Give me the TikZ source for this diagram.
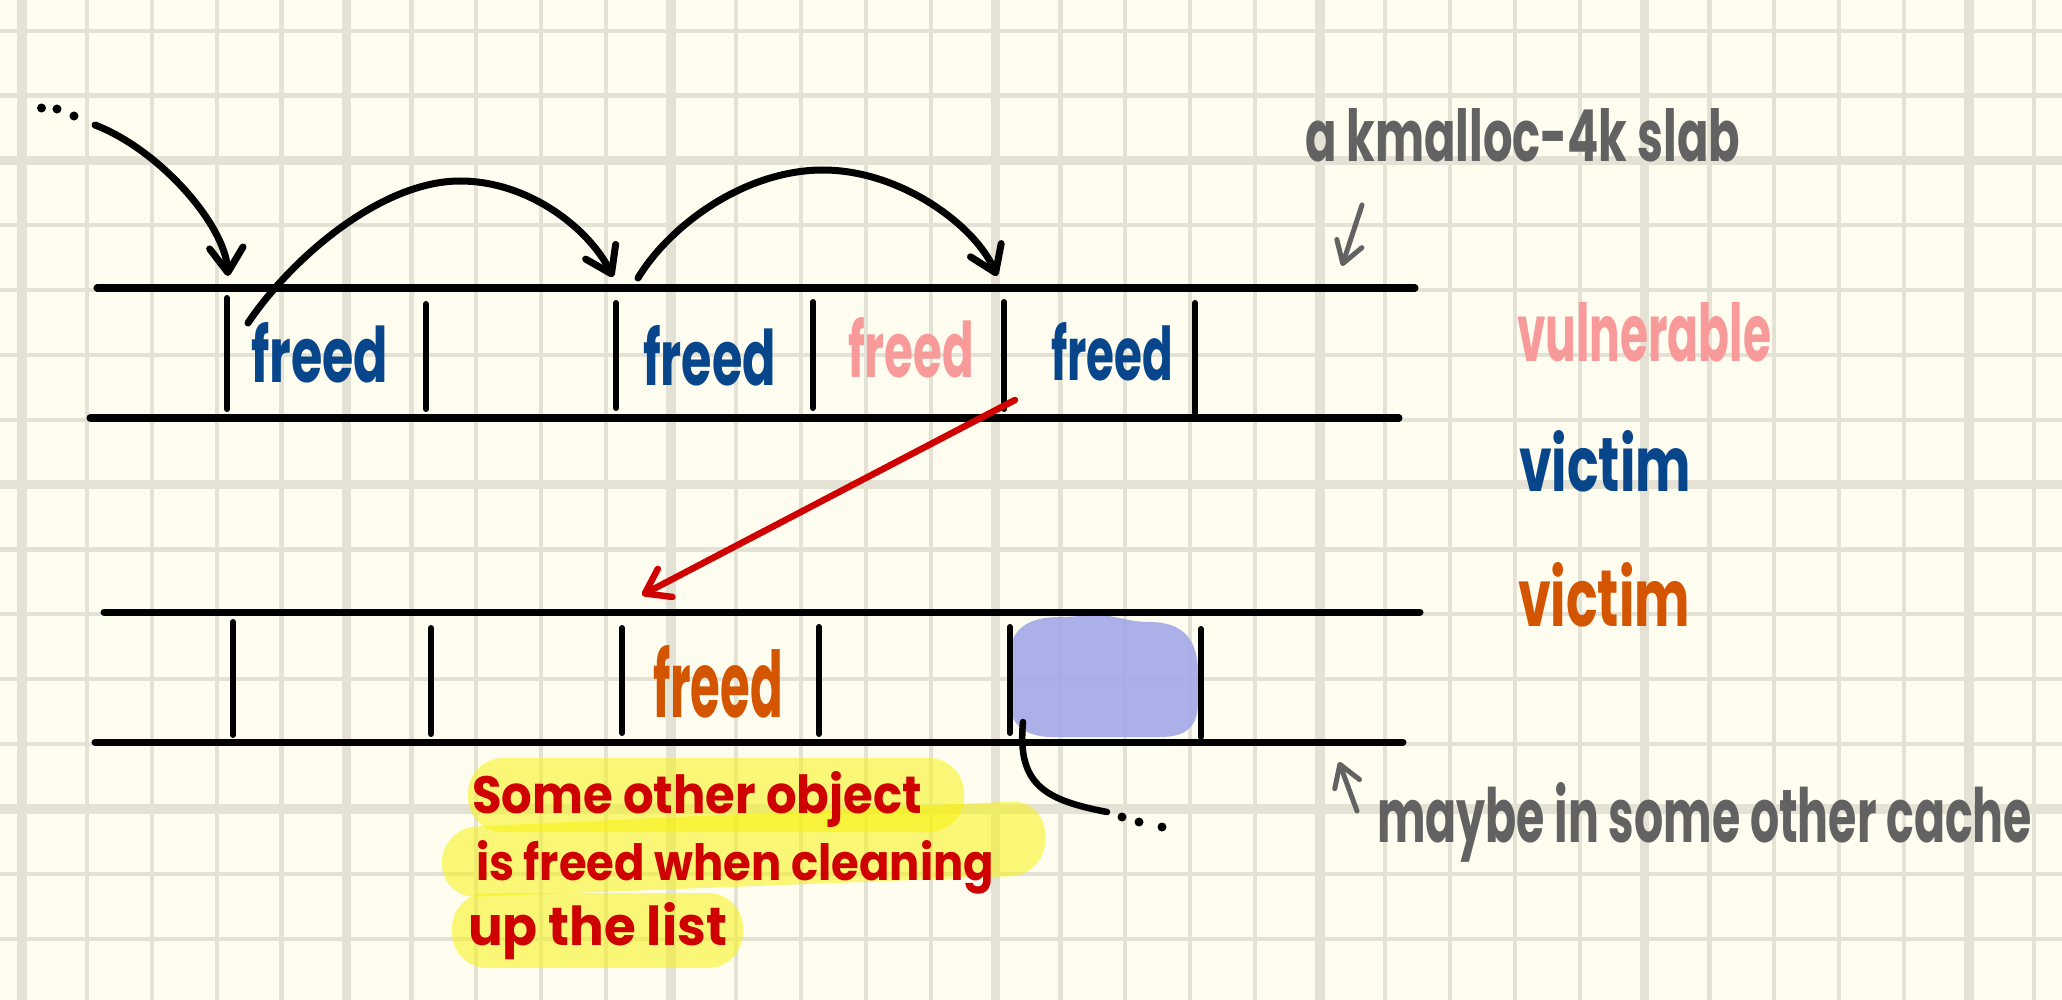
\documentclass[tikz,border=0pt]{standalone}
\usepackage{fontspec}
\setmainfont{Poppins}
\usetikzlibrary{arrows.meta}
\definecolor{paper}{RGB}{254,253,239}
\definecolor{gridc}{RGB}{228,226,213}
\definecolor{inkblue}{RGB}{8,70,140}
\definecolor{inkpink}{RGB}{248,154,154}
\definecolor{inkorange}{RGB}{212,85,0}
\definecolor{inkred}{RGB}{206,0,0}
\definecolor{inkgrey}{RGB}{98,98,98}
\definecolor{blobc}{RGB}{160,166,232}
\definecolor{hilite}{RGB}{248,242,0}
\newlength\pxunit \setlength\pxunit{0.01cm}
\newcommand\hwtext[3]{\resizebox{#1\pxunit}{#2\pxunit}{\bfseries #3}}
\begin{document}
\begin{tikzpicture}[x=0.01cm,y=-0.01cm,
  slabline/.style={line width=0.07cm,line cap=round},
  divider/.style={line width=0.06cm,line cap=round},
  pointer/.style={line width=0.07cm,line cap=round,-{Straight Barb[length=7pt,width=9.5pt,round]}},
  redpointer/.style={inkred,line width=0.065cm,line cap=round,-{Straight Barb[length=6.5pt,width=9pt,round]}},
  greypointer/.style={inkgrey,line width=0.05cm,line cap=round,-{Straight Barb[length=6pt,width=7.5pt,round]}},
  tailcurve/.style={line width=0.065cm,line cap=round},
  inkdot/.style={circle,fill=black,inner sep=0pt,minimum size=0.09cm},
  lbl/.style={anchor=base west,inner sep=0pt,outer sep=0pt},
  band/.style={fill=hilite,fill opacity=0.5},
  blob/.style={fill=blobc,fill opacity=0.88},
]
\useasboundingbox (0,0) rectangle (2062,1000);
\fill[paper] (0,0) rectangle (2062,1000);
% grid
\foreach \i in {0,...,31}{
  \pgfmathsetmacro\gx{22+64.9*\i}
  \pgfmathtruncatemacro\gm{mod(\i,5)}
  \ifnum\gm=0 \def\gw{0.095cm}\else\def\gw{0.042cm}\fi
  \draw[gridc,line width=\gw] (\gx,0) -- (\gx,1000);
}
\foreach \j in {0,...,14}{
  \pgfmathsetmacro\gy{30.7+64.85*\j}
  \pgfmathtruncatemacro\gm{mod(\j+3,5)}
  \ifnum\gm=0 \def\gw{0.095cm}\else\def\gw{0.042cm}\fi
  \draw[gridc,line width=\gw] (0,\gy) -- (2062,\gy);
}
% highlight bands
\fill[band,rounded corners=0.35cm] (468,758) rectangle (964,832);
\fill[band,rounded corners=0.34cm] (442,828) -- (1045,800) -- (1045,875) -- (442,898) -- cycle;
\fill[band,rounded corners=0.35cm] (452,893) rectangle (743,968);
% blob
\fill[blob] (1009,700) -- (1008,665) .. controls (1008,628) and (1028,617) .. (1060,617)
  .. controls (1078,617) and (1088,614) .. (1102,615) .. controls (1120,617) and (1130,622) .. (1150,622)
  .. controls (1185,622) and (1198,642) .. (1198,672) -- (1198,702)
  .. controls (1198,728) and (1185,737) .. (1160,737) -- (1052,737)
  .. controls (1026,737) and (1009,725) .. (1009,700) -- cycle;
% top slab
\coordinate (t1a) at (97,288); \coordinate (t1b) at (1415,288);
\coordinate (t2a) at (90,418); \coordinate (t2b) at (1399,418);
\draw[slabline] (t1a) -- (t1b);
\draw[slabline] (t2a) -- (t2b);
\coordinate (d1t) at (227,298); \coordinate (d1b) at (227,409);
\coordinate (d2t) at (426,304); \coordinate (d2b) at (426,409);
\coordinate (d3t) at (616,303); \coordinate (d3b) at (616,408);
\coordinate (d4t) at (813,302); \coordinate (d4b) at (813,408);
\coordinate (d5t) at (1004,302); \coordinate (d5b) at (1004,409);
\coordinate (d6t) at (1195,303); \coordinate (d6b) at (1195,413);
\foreach \k in {1,...,6}{\draw[divider] (d\k t) -- (d\k b);}
% bottom slab
\coordinate (b1a) at (104,612); \coordinate (b1b) at (1420,612);
\coordinate (b2a) at (95,742); \coordinate (b2b) at (1403,742);
\draw[slabline] (b1a) -- (b1b);
\draw[slabline] (b2a) -- (b2b);
\coordinate (e1t) at (233,622); \coordinate (e1b) at (233,735);
\coordinate (e2t) at (431,628); \coordinate (e2b) at (431,734);
\coordinate (e3t) at (622,628); \coordinate (e3b) at (622,733);
\coordinate (e4t) at (819,627); \coordinate (e4b) at (819,734);
\coordinate (e5t) at (1010,627); \coordinate (e5b) at (1010,733);
\coordinate (e6t) at (1201,629); \coordinate (e6b) at (1201,737);
\foreach \k in {1,...,6}{\draw[divider] (e\k t) -- (e\k b);}
% dots top-left
\node[inkdot] (dotA) at (41.5,108) {};
\node[inkdot] (dotB) at (57,109) {};
\node[inkdot] (dotC) at (74,116) {};
% pointer arrows
\coordinate (p0s) at (95,125); \coordinate (p0e) at (228,276);
\draw[pointer] (p0s) .. controls (160,150) and (225,225) .. (p0e);
\coordinate (p1s) at (248,323); \coordinate (p1m) at (460,181); \coordinate (p1e) at (613,277);
\draw[pointer] (p1s) .. controls (290,260) and (380,181) .. (p1m) .. controls (530,181) and (590,230) .. (p1e);
\coordinate (p2s) at (638,278); \coordinate (p2m) at (823,170); \coordinate (p2e) at (997,276);
\draw[pointer] (p2s) .. controls (670,225) and (745,170) .. (p2m) .. controls (900,170) and (975,225) .. (p2e);
% red arrow
\coordinate (rs) at (1015,400); \coordinate (re) at (642,595);
\draw[redpointer] (rs) -- (re);
% grey arrows
\coordinate (g1s) at (1362,205); \coordinate (g1e) at (1342,266);
\draw[greypointer] (g1s) -- (g1e);
\coordinate (g2s) at (1357,811); \coordinate (g2e) at (1339,762);
\draw[greypointer] (g2s) -- (g2e);
% tail from blob
\coordinate (cs) at (1023,722); \coordinate (ce) at (1107,812);
\draw[tailcurve] (cs) .. controls (1017,785) and (1045,800) .. (ce);
\node[inkdot] (dotD) at (1122,817) {};
\node[inkdot] (dotE) at (1139,822) {};
\node[inkdot] (dotF) at (1162,827) {};
% labels
\node[lbl,text=inkblue] (f1) at (251,383) {\hwtext{137}{60}{freed}};
\node[lbl,text=inkblue] (f3) at (643,385) {\hwtext{133}{60}{freed}};
\node[lbl,text=inkpink] (f4) at (848,377) {\hwtext{126}{60}{freed}};
\node[lbl,text=inkblue] (f5) at (1051,380) {\hwtext{122}{58}{freed}};
\node[lbl,text=inkorange] (fo) at (653,717) {\hwtext{130}{72}{freed}};
\node[lbl,text=inkgrey] (slab) at (1305,161) {\hwtext{435}{53}{a kmalloc-4k slab}};
\node[lbl,text=inkpink] (vuln) at (1517,361) {\hwtext{254}{59}{vulnerable}};
\node[lbl,text=inkblue] (vic1) at (1519,491) {\hwtext{172}{61}{victim}};
\node[lbl,text=inkorange] (vic2) at (1518,626) {\hwtext{172}{64}{victim}};
\node[lbl,text=inkgrey] (maybe) at (1377,842) {\hwtext{655}{60}{maybe in some other cache}};
\node[lbl,text=inkred] (n1) at (472,813) {\hwtext{450}{42}{Some other object}};
\node[lbl,text=inkred] (n2) at (476,880) {\hwtext{518}{40}{is freed when cleaning}};
\node[lbl,text=inkred] (n3) at (468,945) {\hwtext{259}{43}{up the list}};
\end{tikzpicture}
\end{document}
